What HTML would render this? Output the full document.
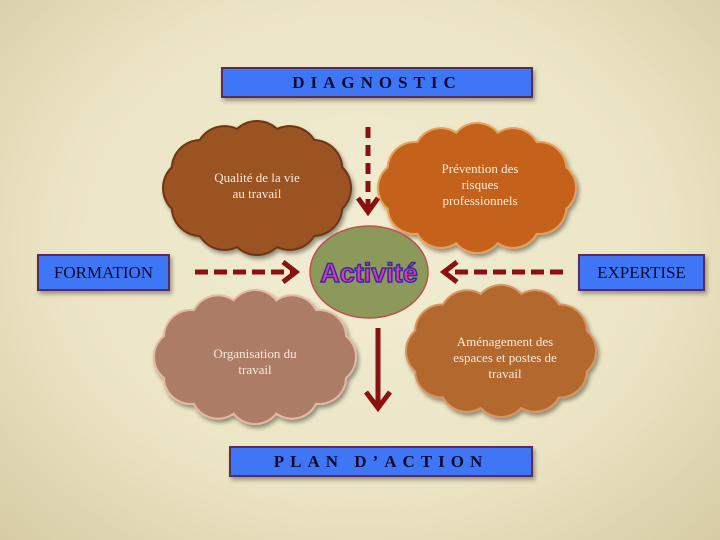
<!DOCTYPE html>
<html><head><meta charset="utf-8"><style>
html,body{margin:0;padding:0}
body{width:720px;height:540px;overflow:hidden;background:radial-gradient(ellipse at 50% 45%,#f2edd3 0%,#ebe4c4 60%,#d6cba3 100%);font-family:"Liberation Serif",serif;position:relative}
.box{position:absolute;background:#3f76f6;border:2px solid #5a2a5a;box-shadow:2px 3px 4px rgba(0,0,0,.35);color:#0a0a30;text-align:center;box-sizing:border-box}
.sp{letter-spacing:6px;font-size:17px;font-weight:bold}
.lbl{position:absolute;color:#f6ecdc;text-align:center;font-size:13px;line-height:16px}
</style></head><body>
<svg id="s" width="720" height="540" style="position:absolute;left:0;top:0">
<defs><filter id="sh"><feDropShadow dx="2" dy="3" stdDeviation="2" flood-color="#000" flood-opacity="0.4"/></filter></defs>
<g id="clouds"></g>
<ellipse cx="369" cy="272" rx="59" ry="46" fill="#8b9a5b" stroke="#c0504d" stroke-width="1.5"/>
<text x="369" y="282" text-anchor="middle" font-family="Liberation Sans, sans-serif" font-weight="bold" font-size="27" fill="#e23ab0" stroke="#3a2aa0" stroke-width="1.5">Activité</text>
<g stroke="#8b1010" stroke-width="5" fill="none">
<line x1="368" y1="127" x2="368" y2="208" stroke-dasharray="11,7"/>
<polyline points="358,198 368,212 378,198" stroke-width="5"/>
<line x1="195" y1="272" x2="292" y2="272" stroke-dasharray="13,6"/>
<polyline points="283,262 296,272 283,282"/>
<line x1="563" y1="272" x2="452" y2="272" stroke-dasharray="13,6"/>
<polyline points="457,262 444,272 457,282"/>
<line x1="378" y1="328" x2="378" y2="406"/>
<polyline points="366,392 378,408 390,392"/>
</g>
</svg>
<div class="box sp" style="left:221px;top:67px;width:312px;height:31px;line-height:28px">DIAGNOSTIC</div>
<div class="box" style="left:37px;top:254px;width:133px;height:37px;line-height:34px;font-size:17px">FORMATION</div>
<div class="box" style="left:578px;top:254px;width:127px;height:37px;line-height:34px;font-size:17px">EXPERTISE</div>
<div class="box sp" style="left:229px;top:446px;width:304px;height:31px;line-height:28px">PLAN D’ACTION</div>
<div class="lbl" style="left:182px;top:170px;width:150px">Qualité de la vie<br>au travail</div>
<div class="lbl" style="left:405px;top:161px;width:150px">Prévention des<br>risques<br>professionnels</div>
<div class="lbl" style="left:180px;top:346px;width:150px">Organisation du<br>travail</div>
<div class="lbl" style="left:430px;top:334px;width:150px">Aménagement des<br>espaces et postes de<br>travail</div>
<script>
var g=document.getElementById('clouds'),ns='http://www.w3.org/2000/svg';
function cloud(cx,cy,rx,ry,r,n,fill,stroke){
 var grp=document.createElementNS(ns,'g');grp.setAttribute('filter','url(#sh)');
 var parts=[];
 for(var i=0;i<n;i++){var a=i/n*2*Math.PI;parts.push([cx+(rx-r)*Math.cos(a),cy+(ry-r)*Math.sin(a),r]);}
 parts.forEach(function(p){var c=document.createElementNS(ns,'circle');c.setAttribute('cx',p[0]);c.setAttribute('cy',p[1]);c.setAttribute('r',p[2]);c.setAttribute('fill',stroke);grp.appendChild(c);});
 parts.forEach(function(p){var c=document.createElementNS(ns,'circle');c.setAttribute('cx',p[0]);c.setAttribute('cy',p[1]);c.setAttribute('r',p[2]-2);c.setAttribute('fill',fill);grp.appendChild(c);});
 var e=document.createElementNS(ns,'ellipse');e.setAttribute('cx',cx);e.setAttribute('cy',cy);e.setAttribute('rx',rx-r*0.6);e.setAttribute('ry',ry-r*0.6);e.setAttribute('fill',fill);grp.appendChild(e);
 g.appendChild(grp);
}
cloud(257,188,95,68,30,12,'#9c5220','#6e3512');
cloud(477,188,100,66,28,12,'#c4621c','#e7a05a');
cloud(255,357,102,68,28,12,'#ad7c66','#e3b9a0');
cloud(501,351,96,67,28,12,'#b3682f','#d89560');
</script>
</body></html>
